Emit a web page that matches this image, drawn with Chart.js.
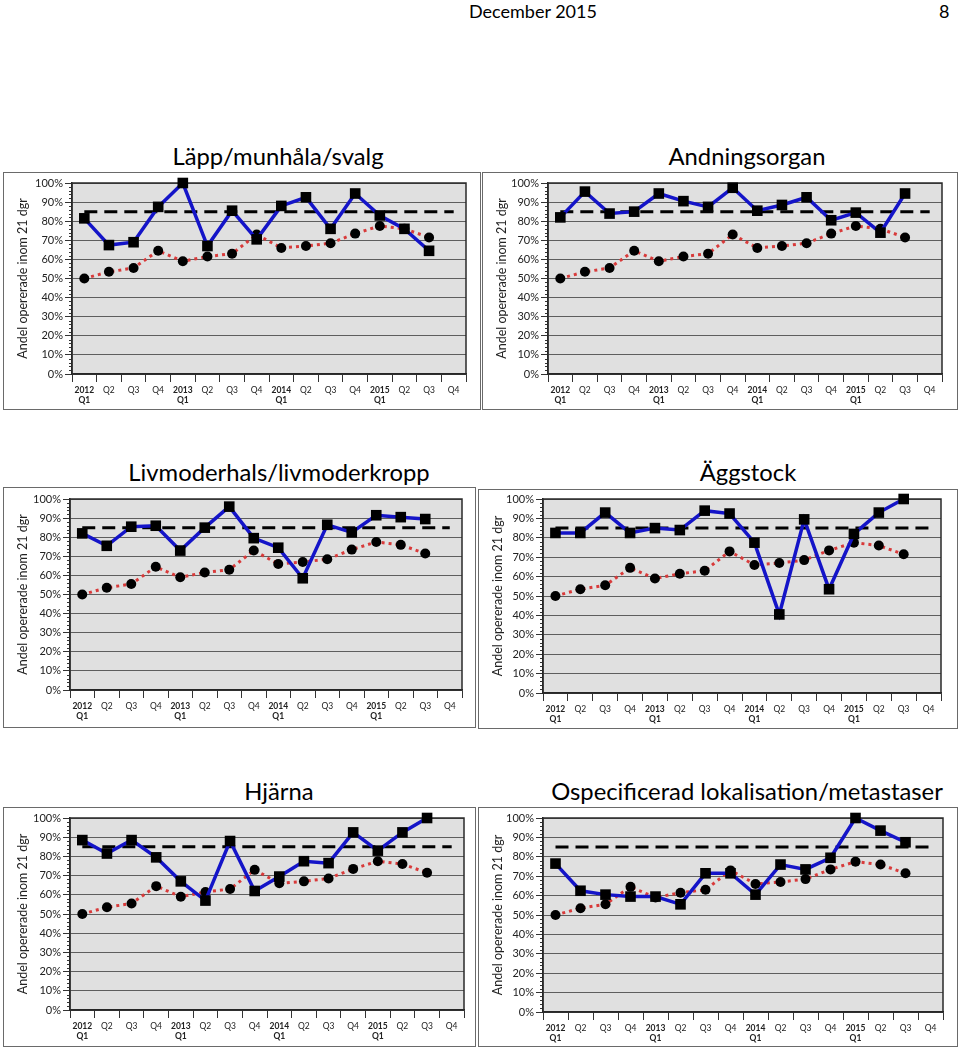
<!DOCTYPE html>
<html>
<head>
<meta charset="utf-8">
<script src="https://cdn.jsdelivr.net/npm/chart.js@4.4.1/dist/chart.umd.min.js"></script>
<style>
  html, body { margin: 0; padding: 0; background: #fff; }
  body { width: 960px; height: 1049px; position: relative; overflow: hidden; font-family: Lato, "Open Sans", sans-serif; }
  .hdr { position: absolute; font-size: 18px; color: #000; line-height: 1; }
  .ttl { position: absolute; font-size: 23.8px; color: #000; text-align: center; line-height: 1; white-space: nowrap; }
  .frame { position: absolute; border: 1px solid #6a6a6a; box-sizing: border-box; }
  canvas { position: absolute; }
</style>
</head>
<body>
<div class="hdr" style="left:469px; top:2px;">December 2015</div>
<div class="hdr" style="left:939px; top:2px;">8</div>

<script>
// ---------- DATA ----------
const quarters = [["2012","Q1"],"Q2","Q3","Q4",["2013","Q1"],"Q2","Q3","Q4",["2014","Q1"],"Q2","Q3","Q4",["2015","Q1"],"Q2","Q3","Q4"];
const yTickValues = [0,10,20,30,40,50,60,70,80,90,100];
const riket = [50,53.5,55.5,64.5,59,61.5,63,73,66,67,68.5,73.5,77.5,76,71.5,null];
const malniva = [85,85,85,85,85,85,85,85,85,85,85,85,85,85,85,85];
const lappMunhalaSvalg = [81.5,67.5,69,87.5,100,67,85.5,70.5,88,92.5,76,94.5,83,76,64.5,null];
const andningsorgan = [82,95.5,84,85,94.5,90.5,87.5,97.5,85.5,88.5,92.5,80.5,84.5,74,94.5,null];
const livmoder = [82,75.5,85.5,86,73,85,96,79.5,74.5,58.5,86.5,82.5,91.5,90.5,89.5,null];
const aggstock = [82.5,82.5,93,82.5,85,84,94,92.5,77.5,40.5,89.5,53.5,82,93,100,null];
const hjarna = [88.5,81.5,88.5,79.5,67,57,88,62,69.5,77.5,76.5,92.5,83,92.5,100,null];
const ospecificerad = [76.5,62.5,60.5,59.5,59.5,55.5,71.5,71.5,60.5,76,73.5,79.5,100,93.5,87.5,null];
const titles = ["Läpp/munhåla/svalg","Andningsorgan","Livmoderhals/livmoderkropp","Äggstock","Hjärna","Ospecificerad lokalisation/metastaser"];
const seriesList = [lappMunhalaSvalg, andningsorgan, livmoder, aggstock, hjarna, ospecificerad];
const yAxisTitle = "Andel opererade inom 21 dgr";

// ---------- LAYOUT ----------
const panels = [
  { frame:[3,172,481,410],   plot:[72,183,466,374],  titleCx:278, titleCy:157 },
  { frame:[482,172,958,410], plot:[548,183,942,374], titleCx:747, titleCy:157 },
  { frame:[3,487,476,728],   plot:[70,499,462,690],  titleCx:279, titleCy:473 },
  { frame:[478,489,958,729], plot:[543,499,941,693], titleCx:748, titleCy:473 },
  { frame:[3,807,476,1047],  plot:[70,818,464,1010], titleCx:279, titleCy:792 },
  { frame:[478,807,958,1047],plot:[543,818,943,1012],titleCx:747, titleCy:792 }
];

const plotDeco = {
  id: 'plotDeco',
  beforeDraw(chart) {
    const {ctx, chartArea:a} = chart;
    ctx.save();
    ctx.fillStyle = '#e0e0e0';
    ctx.fillRect(a.left, a.top, a.width, a.height);
    ctx.restore();
  },
  beforeDatasetsDraw(chart) {
    const {ctx, chartArea:a} = chart;
    const ys = chart.scales.y;
    ctx.save();
    ctx.strokeStyle = '#333';
    ctx.lineWidth = 1;
    for (let v = 0; v <= 100; v += 2) {
      if (v % 10 === 0) continue;
      const y = Math.round(ys.getPixelForValue(v)) + 0.5;
      ctx.beginPath(); ctx.moveTo(a.left - 3, y); ctx.lineTo(a.left, y); ctx.stroke();
    }
    ctx.strokeStyle = '#2a2a2a';
    ctx.lineWidth = 1.5;
    ctx.strokeRect(a.left, a.top, a.width, a.height);
    ctx.restore();
  }
};

panels.forEach((p, i) => {
  const [fl, ft, fr, fb] = p.frame;
  const [pl, pt, pr, pb] = p.plot;
  const w = fr - fl, h = fb - ft;

  const fr_el = document.createElement('div');
  fr_el.className = 'frame';
  Object.assign(fr_el.style, { left: fl+'px', top: ft+'px', width: w+'px', height: h+'px' });
  document.body.appendChild(fr_el);

  const t = document.createElement('div');
  t.className = 'ttl';
  t.textContent = titles[i];
  Object.assign(t.style, { left: (p.titleCx - 300)+'px', width: '600px', top: (p.titleCy - 12)+'px' });
  document.body.appendChild(t);

  const cv = document.createElement('canvas');
  cv.width = w; cv.height = h;
  Object.assign(cv.style, { left: fl+'px', top: ft+'px', width: w+'px', height: h+'px' });
  document.body.appendChild(cv);

  new Chart(cv, {
    type: 'line',
    data: {
      labels: quarters,
      datasets: [
        { data: seriesList[i], borderColor: '#1414c8', borderWidth: 3.5, pointStyle: 'rect', pointRadius: 7.5,
          pointBackgroundColor: '#000', pointBorderColor: '#000', pointBorderWidth: 0, tension: 0, clip: false },
        { data: riket, borderColor: '#d83a3a', borderWidth: 3, borderDash: [3,4], borderCapStyle: 'butt', pointStyle: 'circle', pointRadius: 5,
          pointBackgroundColor: '#000', pointBorderColor: '#000', pointBorderWidth: 0, tension: 0, clip: false },
        { data: malniva, borderColor: '#000', borderWidth: 3, borderDash: [13,7], pointRadius: 0, tension: 0 }
      ]
    },
    options: {
      responsive: false,
      animation: false,
      devicePixelRatio: 1,
      layout: { padding: { left: 0, top: pt - ft, right: fr - pr, bottom: 0 } },
      plugins: { legend: { display: false }, tooltip: { enabled: false }, title: { display: false } },
      scales: {
        x: {
          type: 'category',
          offset: true,
          afterFit: (s) => { s.height = fb - pb; },
          grid: { offset: true, drawOnChartArea: false, tickLength: 8, color: '#333', lineWidth: 1 },
          border: { display: true, color: '#222', width: 1.5 },
          ticks: {
            autoSkip: false, maxRotation: 0, minRotation: 0, padding: 3, color: '#222',
            font: (c) => ({ family: 'Lato, sans-serif', size: 8.5, weight: Array.isArray(quarters[c.index]) ? 'bold' : 'normal', lineHeight: 1.2 })
          }
        },
        y: {
          min: 0, max: 100,
          afterFit: (s) => { s.width = pl - fl; },
          afterBuildTicks: (s) => { s.ticks = yTickValues.map(v => ({ value: v })); },
          grid: { color: '#5e5e5e', lineWidth: 1, tickLength: 7, tickColor: '#333' },
          border: { display: true, color: '#222', width: 1.5 },
          ticks: { padding: 2, color: '#222', font: { family: 'Lato, sans-serif', size: 11 }, callback: (v) => v + '%' },
          title: { display: true, text: yAxisTitle, color: '#222', font: { family: 'Lato, sans-serif', size: 12.5 }, padding: { top: 12, bottom: 0 } }
        }
      }
    },
    plugins: [plotDeco]
  });
});
</script>
</body>
</html>
